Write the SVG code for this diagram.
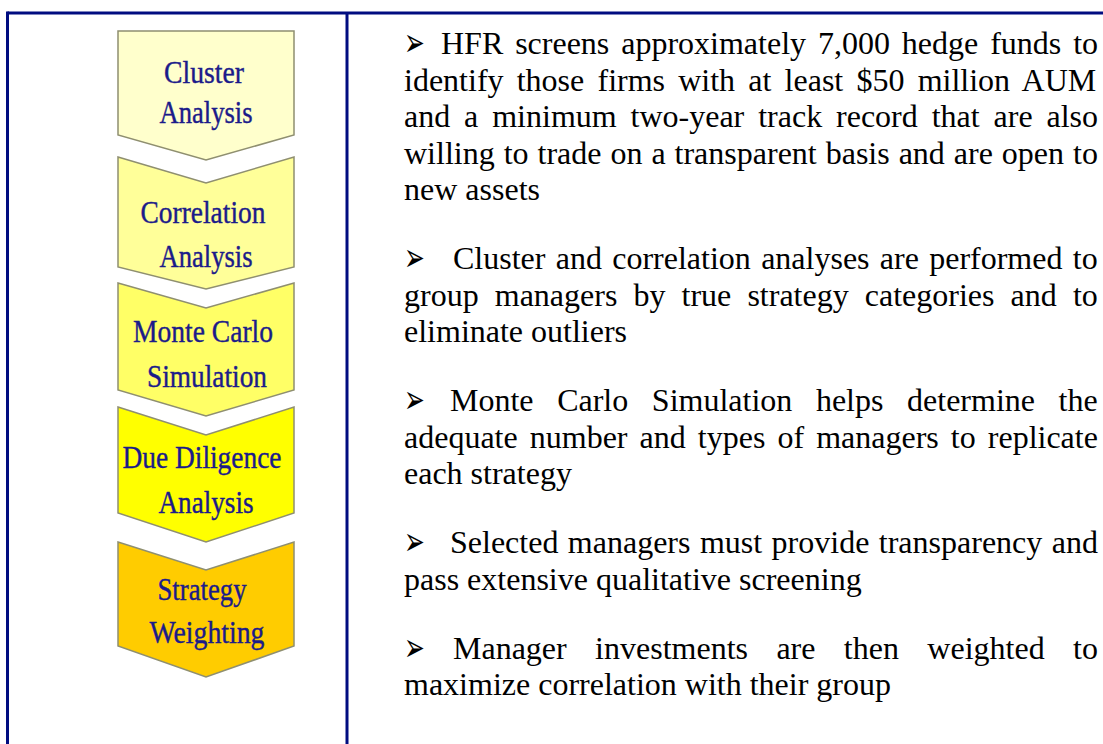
<svg xmlns="http://www.w3.org/2000/svg" width="1103" height="744" viewBox="0 0 1103 744">
<style>
.frame{stroke:#000c80;stroke-width:3;fill:none}
.chev{stroke:#8f8f70;stroke-width:1.5}
.lbl{font-family:"Liberation Serif","Times New Roman",serif;font-size:32px;fill:#1b1b8a;stroke:#1b1b8a;stroke-width:0.4;text-anchor:middle}
.txt{font-family:"Liberation Serif","Times New Roman",serif;font-size:32px;fill:#000}
.bul{font-family:"DejaVu Sans",sans-serif;font-size:40px;fill:#000}
</style>
<rect width="1103" height="744" fill="#fff"/>
<g id="frame">
<line class="frame" x1="7.5" y1="13" x2="1103" y2="13"/>
<line class="frame" x1="7.5" y1="11.5" x2="7.5" y2="744"/>
<line class="frame" x1="347" y1="13" x2="347" y2="744"/>
</g>
<g id="connectors"></g>
<g id="cluster">
<path class="chev" fill="#ffffcc" d="M118,31 H294 V135 L206,160 L118,135 Z"/>
<text class="lbl" x="204" y="83" textLength="80" lengthAdjust="spacingAndGlyphs">Cluster</text>
<text class="lbl" x="206" y="123" textLength="93" lengthAdjust="spacingAndGlyphs">Analysis</text>
</g>
<g id="correlation">
<path class="chev" fill="#ffff99" d="M118,157 L206,183 L294,157 V267 L206,289 L118,267 Z"/>
<text class="lbl" x="203" y="223" textLength="125" lengthAdjust="spacingAndGlyphs">Correlation</text>
<text class="lbl" x="206" y="267" textLength="93" lengthAdjust="spacingAndGlyphs">Analysis</text>
</g>
<g id="montecarlo">
<path class="chev" fill="#ffff66" d="M118,283 L206,308 L294,283 V390 L206,416 L118,390 Z"/>
<text class="lbl" x="203" y="342" textLength="140" lengthAdjust="spacingAndGlyphs">Monte Carlo</text>
<text class="lbl" x="207" y="387" textLength="120" lengthAdjust="spacingAndGlyphs">Simulation</text>
</g>
<g id="duediligence">
<path class="chev" fill="#ffff00" d="M118,407 L206,435 L294,407 V513 L206,542 L118,513 Z"/>
<text class="lbl" x="202" y="468" textLength="159" lengthAdjust="spacingAndGlyphs">Due Diligence</text>
<text class="lbl" x="206" y="513" textLength="95" lengthAdjust="spacingAndGlyphs">Analysis</text>
</g>
<g id="strategy">
<path class="chev" fill="#ffcc00" d="M118,542 L206,570 L294,542 V646 L206,677 L118,646 Z"/>
<text class="lbl" x="202" y="600" textLength="89" lengthAdjust="spacingAndGlyphs">Strategy</text>
<text class="lbl" x="207" y="643" textLength="115" lengthAdjust="spacingAndGlyphs">Weighting</text>
</g>
<g id="text">
<text class="bul" transform="translate(404,56) scale(0.62,1)">➢</text>
<text class="txt" x="441" y="54" style="word-spacing:3.9px">HFR screens approximately 7,000 hedge funds to</text>
<text class="txt" x="404" y="90.5" style="word-spacing:5.2px">identify those firms with at least $50 million AUM</text>
<text class="txt" x="404" y="127" style="word-spacing:5.9px">and a minimum two-year track record that are also</text>
<text class="txt" x="404" y="163.5" style="word-spacing:0.97px">willing to trade on a transparent basis and are open to</text>
<text class="txt" x="404" y="200">new assets</text>

<text class="bul" transform="translate(404,271) scale(0.62,1)">➢</text>
<text class="txt" x="453" y="269" style="word-spacing:2.3px">Cluster and correlation analyses are performed to</text>
<text class="txt" x="404" y="305.5" style="word-spacing:8.1px">group managers by true strategy categories and to</text>
<text class="txt" x="404" y="342">eliminate outliers</text>

<text class="bul" transform="translate(404,413) scale(0.62,1)">➢</text>
<text class="txt" x="450" y="411" style="word-spacing:15.6px">Monte Carlo Simulation helps determine the</text>
<text class="txt" x="404" y="447.5" style="word-spacing:4.06px">adequate number and types of managers to replicate</text>
<text class="txt" x="404" y="484">each strategy</text>

<text class="bul" transform="translate(404,555) scale(0.62,1)">➢</text>
<text class="txt" x="450" y="553" style="word-spacing:1.46px">Selected managers must provide transparency and</text>
<text class="txt" x="404" y="589.5">pass extensive qualitative screening</text>

<text class="bul" transform="translate(404,660.5) scale(0.62,1)">➢</text>
<text class="txt" x="453" y="658.5" style="word-spacing:20.4px">Manager investments are then weighted to</text>
<text class="txt" x="404" y="695">maximize correlation with their group</text>
</g>
</svg>
